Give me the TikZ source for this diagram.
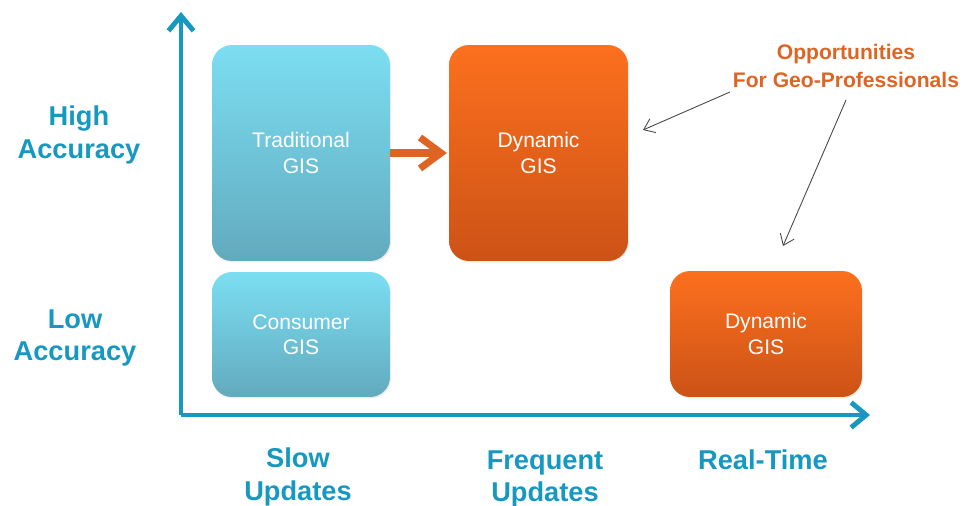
\documentclass[tikz,border=0pt]{standalone}
\usepackage{fontspec}
\setmainfont{Liberation Sans}
\usepackage{tikz}
\usetikzlibrary{arrows.meta,shadows}
\usepackage{xcolor}

\definecolor{axisblue}{RGB}{22,152,192}
\definecolor{boxbluetop}{RGB}{124,222,242}
\definecolor{boxbluebot}{RGB}{98,170,190}
\definecolor{boxorangetop}{RGB}{252,112,30}
\definecolor{boxorangebot}{RGB}{204,82,22}
\definecolor{oppcolor}{RGB}{222,100,36}
\definecolor{pointgray}{RGB}{70,70,70}

\tikzset{
    bluebox/.style={rounded corners=0.4cm, top color=boxbluetop, bottom color=boxbluebot,
        draw=none, text=white, font=\fontsize{12}{14.5}\selectfont, align=center,
        drop shadow={opacity=0.15, shadow xshift=0.6pt, shadow yshift=-0.8pt}},
    orangebox/.style={rounded corners=0.4cm, top color=boxorangetop, bottom color=boxorangebot,
        draw=none, text=white, font=\fontsize{12}{14.5}\selectfont, align=center,
        drop shadow={opacity=0.15, shadow xshift=0.6pt, shadow yshift=-0.8pt}},
    axislabel/.style={text=axisblue, font=\bfseries\fontsize{15.5}{18.7}\selectfont, align=center},
    pointer/.style={draw=pointgray, line width=0.5pt, -{Straight Barb[length=2mm,width=3mm]}}
}

\begin{document}
\begin{tikzpicture}[x=0.02cm, y=-0.02cm]
    \useasboundingbox (0,0) rectangle (963,506);

    % Axes
    \coordinate (origin) at (181,415);
    \coordinate (ytop) at (181,12);
    \coordinate (xend) at (870,415);
    \draw[axisblue, line width=2.8pt, -{Straight Barb[length=3mm,width=5mm]}] (origin) -- (ytop);
    \draw[axisblue, line width=2.8pt, -{Straight Barb[length=3mm,width=5mm]}] (origin) -- (xend);

    % Axis labels
    \node[axislabel] (high) at (79,135) {High\\Accuracy};
    \node[axislabel] (low) at (75,338) {Low\\Accuracy};
    \node[axislabel] (slow) at (298,477) {Slow\\Updates};
    \node[axislabel] (freq) at (545,479) {Frequent\\Updates};
    \node[axislabel] (real) at (763,460) {Real-Time};

    % Boxes
    \node[bluebox, minimum width=3.56cm, minimum height=4.32cm] (trad) at (301,153) {Traditional\\GIS};
    \node[orangebox, minimum width=3.58cm, minimum height=4.32cm] (dyntop) at (538.5,153) {Dynamic\\GIS};
    \node[bluebox, minimum width=3.56cm, minimum height=2.5cm] (cons) at (301,334.5) {Consumer\\GIS};
    \node[orangebox, minimum width=3.84cm, minimum height=2.52cm] (dynbot) at (766,334) {Dynamic\\GIS};

    % Upgrade arrow
    \draw[oppcolor, line width=4pt, -{Straight Barb[length=4.2mm,width=6.2mm]}] (trad.east) -- ([xshift=-1pt]dyntop.west);

    % Opportunities
    \node[text=oppcolor, font=\bfseries\fontsize{12}{15.9}\selectfont, align=center] (opp) at (846,66)
        {Opportunities\\For Geo-Professionals};
    \coordinate (oppa) at (730,92);
    \coordinate (oppb) at (846,100);
    \coordinate (tipa) at (643,130);
    \coordinate (tipb) at (783,246);
    \draw[pointer] (oppa) -- (tipa);
    \draw[pointer] (oppb) -- (tipb);
\end{tikzpicture}
\end{document}
